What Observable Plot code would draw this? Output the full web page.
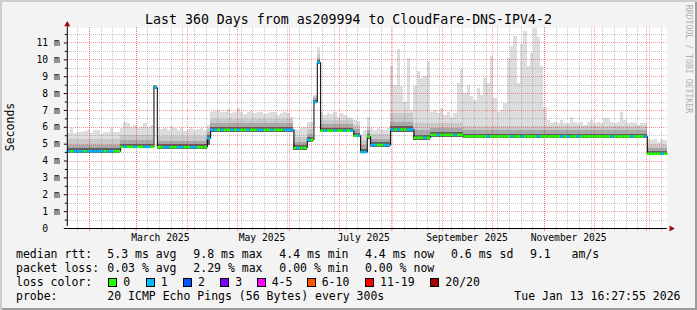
<!DOCTYPE html>
<html><head><meta charset="utf-8">
<script src="https://cdn.jsdelivr.net/npm/d3@7"></script>
<script src="https://cdn.jsdelivr.net/npm/@observablehq/plot@0.6"></script>
<style>
html,body{margin:0;padding:0;background:#fff}
#card{position:relative;width:697px;height:310px;background:#f3f3f3;overflow:hidden;
  box-shadow:inset 2px 2px 0 #cdcdcd, inset -2px -2px 0 #9b9b9b;
  font-family:"DejaVu Sans Mono",monospace;color:#000}
#chart{position:absolute;left:0;top:0}
.t{position:absolute;white-space:pre;font-size:11.5px;line-height:14px}
.title{position:absolute;left:0;width:697px;top:12px;text-align:center;font-size:13.25px;line-height:16px;white-space:pre}
.sw{position:absolute;width:7px;height:7px;border:1px solid #000}
</style></head>
<body><div id="card"><div id="chart"></div></div>
<script>
// ---------- data ----------
const endTime = "2026-01-13T16:27:55Z";
const spanDays = 360;
const colDays = 2; // each smoke column covers 2 days

// median rtt (ms) as step segments: segment starts at column index segStart[k]
const segStart  = [0,   16,  26,  27,  42,  43,  68,  72,  74,  75,   76,  86,  88,  90,  91,  97,  104, 109, 119, 174];
const segMedian = [4.58,4.84,8.35,4.82,5.35,5.85,4.78,5.25,7.5, 9.85, 5.8, 5.5, 4.53,5.45,4.95,5.87,5.38,5.55,5.46,4.43];
const segLo     = [4.45,4.72,8.25,4.7, 4.9, 5.72,4.65,5.1, 7.4, 9.75, 5.68,5.38,4.42,5.3, 4.82,5.72,5.2, 5.42,5.36,4.33];
const segDark   = [4.72,4.98,8.4, 4.96,5.5, 6.0, 4.92,5.38,7.6, 9.95, 5.95,5.64,4.68,5.58,5.1, 6.02,5.52,5.68,5.6, 4.56];
const segMid    = [4.95,5.2, 8.45,5.15,5.7, 6.2, 5.1, 5.6, 7.7, 10.1, 6.15,5.85,4.9, 5.8, 5.3, 6.3, 5.8, 5.9, 5.8, 4.72];
const segLight  = [5.25,5.5, 8.45,5.45,5.9, 6.45,5.4, 5.85,7.8, 10.3, 6.4, 6.1, 5.2, 6.0, 5.55,6.8, 6.2, 6.2, 6.05,4.9];

// top of the smoke (max rtt, ms) per 2-day column
const smokeTop = [
 5.62,5.9,5.62,5.7,5.7,5.75,5.8,5.62,5.8,5.8,
 5.55,5.7,5.7,5.9,5.7,5.7,5.9,6.3,6.2,6.0,
 6.1,5.95,6.0,6.25,6.0,6.1,8.45,6.0,5.85,5.95,
 5.8,6.05,5.9,5.8,5.9,5.75,5.85,6.0,5.8,5.85,
 5.9,5.8,6.1,6.9,6.95,7.0,6.85,6.9,7.05,6.8,
 6.9,7.1,6.85,6.75,6.9,6.95,6.8,6.85,6.9,6.75,
 6.8,6.9,6.85,6.7,6.8,6.9,6.8,6.6,5.85,5.8,
 5.9,6.0,6.3,6.3,7.9,10.75,6.9,6.7,6.8,6.75,
 6.85,6.6,6.8,6.7,6.6,6.55,6.4,6.35,5.6,5.8,
 6.6,5.9,5.8,5.9,5.85,5.8,5.9,9.6,8.5,10.6,
 8.4,7.5,10.1,7.0,8.4,9.3,8.9,9.0,9.9,6.9,
 7.0,6.8,7.1,6.7,6.9,6.6,6.8,8.6,9.4,8.0,
 8.5,7.8,7.6,8.3,7.9,8.9,8.6,10.2,7.7,6.9,
 7.0,7.4,10.1,10.8,11.4,8.6,10.9,11.7,9.6,10.4,
 11.85,11.3,9.6,7.2,6.4,6.2,6.3,6.2,6.4,6.2,
 6.2,6.6,6.3,6.2,6.3,6.1,6.3,6.4,6.2,6.3,
 6.2,6.5,6.5,6.3,6.2,6.3,6.9,6.4,6.2,6.3,
 6.2,6.1,6.2,6.2,5.3,5.2,5.3,5.1,5.25,5.2
];
// loss bucket per column (0 = 0/20, 1 = 1/20)
const lossBucket = [
 1,0,1,1,1,0,1,1,1,1, 1,0,1,1,0,0,0,1,0,0, 1,0,0,1,1,0,1,0,0,1,
 1,0,0,1,1,0,0,1,1,0, 0,0,1,1,1,0,1,0,0,1, 0,1,0,0,1,0,0,1,1,0,
 0,1,0,0,0,1,1,1,0,1, 0,0,1,0,1,1,0,1,0,0, 1,0,0,1,0,1,0,1,1,1,
 0,1,1,0,0,1,1,1,0,1, 0,0,1,1,0,0,0,1,0,0, 0,1,0,0,0,0,1,0,0,0,
 0,0,0,0,0,0,1,0,0,0, 0,0,0,1,0,0,1,0,0,0, 0,1,0,0,0,0,0,0,1,0,
 1,0,0,1,0,0,0,0,0,0, 0,0,0,1,0,0,0,0,0,1, 0,0,0,1,0,0,0,0,1,0
];

const lossLabels = ["0","1","2","3","4-5","6-10","11-19","20/20"];
const lossColors = ["#26ff00","#00b8ff","#0059ff","#7e00ff","#ff00ff","#ff5500","#ff0000","#a10000"];

const yTicks = [0,1,2,3,4,5,6,7,8,9,10,11];
const yTickLabels = ["0\u00a0\u00a0","1 m","2 m","3 m","4 m","5 m","6 m","7 m","8 m","9 m","10 m","11 m"];
const xTickDates = ["2025-03-15T12:00Z","2025-05-15T12:00Z","2025-07-15T12:00Z","2025-09-15T12:00Z","2025-11-15T12:00Z"];
const xTickLabels = ["March 2025","May 2025","July 2025","September 2025","November 2025"];

const titleText = "Last 360 Days from as209994 to CloudFare-DNS-IPV4-2";
const rttHead = "median rtt:";
const rttStats = ["5.3 ms avg","9.8 ms max","4.4 ms min","4.4 ms now","0.6 ms sd","9.1   am/s"];
const lossHead = "packet loss:";
const lossStats = ["0.03 % avg","2.29 % max","0.00 % min","0.00 % now"];
const colorHead = "loss color:";
const probeHead = "probe:";
const probeText = "20 ICMP Echo Pings (56 Bytes) every 300s";
const stampText = "Tue Jan 13 16:27:55 2026";
const yLabel = "Seconds";
const watermark = "RRDTOOL / TOBI OETIKER";

// ---------- build ----------
const DAY = 864e5;
const END = new Date(endTime);
const START = new Date(+END - spanDays * DAY);
function segOf(i){ let k = 0; for (let j = 0; j < segStart.length; j++) if (segStart[j] <= i) k = j; return k; }
const cols = smokeTop.map((top, i) => {
  const k = segOf(i);
  return {
    t0: new Date(+START + i * colDays * DAY),
    t1: new Date(+START + (i + 1) * colDays * DAY),
    top, loss: lossBucket[i],
    m: segMedian[k], lo: segLo[k],
    dark: Math.min(segDark[k], top), mid: Math.min(segMid[k], top), light: Math.min(segLight[k], top)
  };
});
const linePts = cols.map(c => ({t: c.t0, m: c.m})).concat([{t: END, m: cols[cols.length - 1].m}]);

const monthLines = d3.utcMonth.range(START, END);
const weekLines = d3.utcSaturday.range(START, END);
const yMajor = d3.range(1, 12);
const yMinor = d3.range(0.5, 12, 1);
const yMax = 11.9;

const crisp = {shapeRendering: "crispEdges"};
const chart = Plot.plot({
  width: 697, height: 310,
  marginLeft: 66.8, marginRight: 30.2, marginTop: 27.3, marginBottom: 82,
  style: {background: "transparent", fontFamily: "'DejaVu Sans Mono', monospace", fontSize: "9.7px", color: "#000", overflow: "visible"},
  x: {type: "utc", domain: [START, END], label: null},
  y: {domain: [0, yMax], label: null},
  color: {type: "identity"},
  marks: [
    Plot.frame({fill: "#fff", stroke: "none"}),
    Plot.rect(cols, {x1: "t0", x2: "t1", y1: "lo", y2: "top", fill: "#dddddd", ...crisp}),
    Plot.rect(cols, {x1: "t0", x2: "t1", y1: "lo", y2: "light", fill: "#c9c9c9", ...crisp}),
    Plot.rect(cols, {x1: "t0", x2: "t1", y1: "lo", y2: "mid", fill: "#a9a9a9", ...crisp}),
    Plot.rect(cols, {x1: "t0", x2: "t1", y1: "lo", y2: "dark", fill: "#606060", ...crisp}),
    // grid
    Plot.ruleX(weekLines, {stroke: "#808080", strokeOpacity: 0.45, strokeDasharray: "1,1", ...crisp}),
    Plot.ruleY(yMinor, {stroke: "#808080", strokeOpacity: 0.45, strokeDasharray: "1,1", ...crisp}),
    Plot.ruleX(monthLines, {stroke: "#ff0000", strokeOpacity: 0.4, strokeDasharray: "1,1", ...crisp}),
    Plot.ruleY(yMajor, {stroke: "#ff0000", strokeOpacity: 0.4, strokeDasharray: "1,1", ...crisp}),
    // median
    Plot.line(linePts, {x: "t", y: "m", curve: "step-after", stroke: "#000", strokeWidth: 1}),
    Plot.ruleY(cols, {y: "m", x1: "t0", x2: "t1", stroke: d => lossColors[d.loss], strokeWidth: 2.5}),
    // axes
    Plot.axisY({ticks: yMinor, tickSize: 2, text: null, stroke: "#000"}),
    Plot.axisY({ticks: yTicks, tickSize: 3, tickPadding: 4.5, tickFormat: d => yTickLabels[yTicks.indexOf(d)], stroke: "#000"}),
    Plot.axisX({ticks: weekLines, tickSize: 2, text: null, stroke: "#aaa"}),
    Plot.axisX({ticks: monthLines, tickSize: 3, text: null, stroke: "#f09090"}),
    Plot.axisX({ticks: xTickDates.map(d => new Date(d)), tickSize: 0, tickPadding: 6, tickFormat: d => xTickLabels[xTickDates.findIndex(s => +new Date(s) === +d)]}),
    Plot.ruleY([0], {stroke: "#000"}),
    Plot.ruleX([START], {y1: 0, y2: yMax, stroke: "#000", dy: -2}),
    Plot.dot([0], {x: () => END, y: () => 0, symbol: "triangle", r: 2.3, rotate: 90, fill: "#a01010", stroke: "none", dx: 4}),
    Plot.dot([0], {x: () => START, y: () => yMax, symbol: "triangle", r: 2.3, fill: "#a01010", stroke: "none", dy: -3.3})
  ]
});
document.getElementById("chart").append(chart);

// ---------- texts / legend ----------
const card = document.getElementById("card");
function addText(txt, left, top, cls = "t", extra = "") {
  const d = document.createElement("div");
  d.className = cls; d.textContent = txt;
  d.style.cssText += `left:${left}px;top:${top}px;${extra}`;
  card.append(d); return d;
}
const ttl = document.createElement("div"); ttl.className = "title"; ttl.textContent = titleText; card.append(ttl);

const colX = [107.3, 193.3, 279.3, 365, 451, 530];
addText(rttHead, 16, 247.3);
rttStats.forEach((s, i) => addText(s, colX[i], 247.3));
addText(lossHead, 16, 261.3);
lossStats.forEach((s, i) => addText(s, colX[i], 261.3));
addText(colorHead, 16, 275.2);
const swX = [108.3, 145.7, 183, 220.3, 256.7, 306.7, 365, 430.3];
lossLabels.forEach((lab, i) => {
  const s = document.createElement("div");
  s.className = "sw";
  s.style.cssText += `left:${swX[i]}px;top:277.7px;background:${lossColors[i]}`;
  card.append(s);
  addText(lab, swX[i] + 15, 275.2);
});
addText(probeHead, 16, 289.2);
addText(probeText, 107.3, 289.2);
addText(stampText, 0, 289.2, "t", "left:auto;right:16.5px");

const yl = addText(yLabel, 10, 127, "t", "transform:translate(-50%,-50%) rotate(-90deg);");
const wm = addText(watermark, 688.5, 59, "t", "font-size:8.2px;line-height:10px;color:#b0b0b0;transform:translate(-50%,-50%) rotate(90deg);");
</script>
</body></html>
